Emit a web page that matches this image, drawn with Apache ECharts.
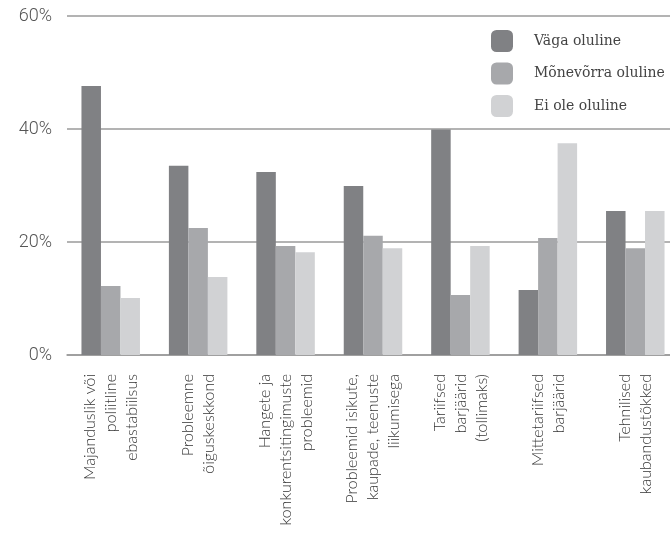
<!DOCTYPE html>
<html>
<head>
<meta charset="utf-8">
<script src="https://cdn.jsdelivr.net/npm/echarts@6/dist/echarts.min.js"></script>
<style>html,body{margin:0;padding:0;background:#fff;overflow:hidden;}#c{width:690px;height:535px;}</style>
</head>
<body>
<div id="c"></div>
<script>
const categories = [
  "Majanduslik või\npoliitline\nebastabiilsus",
  "Probleemne\nõiguskeskkond",
  "Hangete ja\nkonkurentsitingimuste\nprobleemid",
  "Probleemid isikute,\nkaupade, teenuste\nliikumisega",
  "Tariifsed\nbarjäärid\n(tollimaks)",
  "Mittetariifsed\nbarjäärid",
  "Tehnilised\nkaubandustõkked"
];
const seriesNames = ["Väga oluline", "Mõnevõrra oluline", "Ei ole oluline"];
const vagaOluline = [47.6, 33.5, 32.4, 29.9, 39.9, 11.5, 25.5];
const monevorraOluline = [12.2, 22.5, 19.3, 21.1, 10.6, 20.7, 18.9];
const eiOleOluline = [10.1, 13.8, 18.2, 18.9, 19.3, 37.5, 25.5];
const yTicks = [0, 20, 40, 60];

const colors = ["#808184", "#a7a8ab", "#d1d2d4"];
const chart = echarts.init(document.getElementById('c'), null, {renderer: 'canvas'});
const data = [vagaOluline, monevorraOluline, eiOleOluline];
chart.setOption({
  animation: false,
  grid: {left: 67, top: 16, bottom: 180, right: 11, containLabel: false},
  legend: {
    orient: 'vertical', left: 491, top: 30, padding: 0,
    itemWidth: 22, itemHeight: 22, itemGap: 10.5,
    icon: 'roundRect',
    textStyle: {fontFamily: 'DejaVu Serif', fontSize: 14, color: '#444', padding: [0, 0, 0, 16]},
    data: seriesNames
  },
  xAxis: {
    type: 'category', data: categories,
    axisLine: {show: true, lineStyle: {color: '#9a9a9a', width: 1.5}},
    axisTick: {show: false},
    axisLabel: {rotate: 90, margin: 19, interval: 0, fontFamily: 'Lato', fontWeight: 300, fontSize: 16, lineHeight: 21, color: '#333'}
  },
  yAxis: {
    type: 'value', min: yTicks[0], max: yTicks[yTicks.length - 1], interval: 20,
    axisLine: {show: false}, axisTick: {show: false},
    splitLine: {lineStyle: {color: '#9a9a9a', width: 1.5}},
    axisLabel: {formatter: '{value}%', margin: 15, fontFamily: 'Roboto', fontWeight: 300, fontSize: 18, color: '#555'}
  },
  series: seriesNames.map((n, i) => ({
    name: n, type: 'bar', data: data[i], barWidth: 19.5, barGap: '0%',
    itemStyle: {color: colors[i]}
  }))
});
</script>
</body>
</html>
